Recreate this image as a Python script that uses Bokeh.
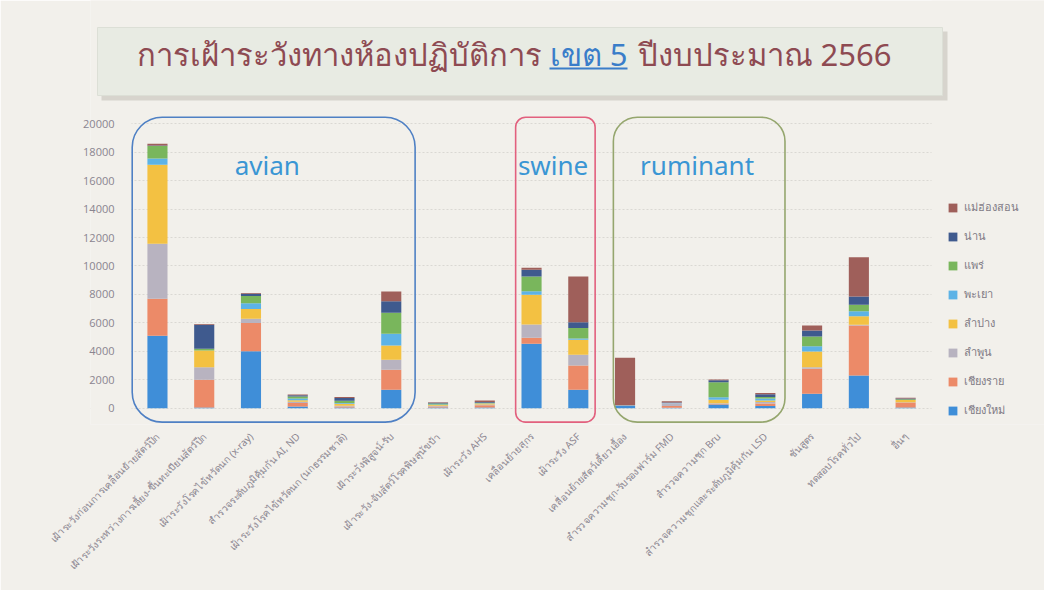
import math
from bokeh.plotting import figure
from bokeh.models import (Range1d, FixedTicker, BoxAnnotation, Label, Legend,
                          LegendItem, ColumnDataSource, BasicTickFormatter)
from bokeh.embed import file_html
from bokeh.resources import INLINE

# ---------------- data ----------------
categories = [
    "เฝ้าระวังก่อนการเคลื่อนย้ายสัตว์ปีก",
    "เฝ้าระวังระหว่างการเลี้ยง-ขึ้นทะเบียนสัตว์ปีก",
    "เฝ้าระวังโรคไข้หวัดนก (x-ray)",
    "สำรวจระดับภูมิคุ้มกัน AI, ND",
    "เฝ้าระวังโรคไข้หวัดนก (นกธรรมชาติ)",
    "เฝ้าระวังพิสูจน์-รับ",
    "เฝ้าระวัง-จับสัตว์โรคพิษสุนัขบ้า",
    "เฝ้าระวัง AHS",
    "เคลื่อนย้ายสุกร",
    "เฝ้าระวัง ASF",
    "เคลื่อนย้ายสัตว์เคี้ยวเอื้อง",
    "สำรวจความชุก-รับรองฟาร์ม FMD",
    "สำรวจความชุก Bru",
    "สำรวจความชุกและระดับภูมิคุ้มกัน LSD",
    "ชันสูตร",
    "ทดสอบโรคทั่วไป",
    "อื่นๆ",
]
provinces = ["เชียงใหม่", "เชียงราย", "ลำพูน", "ลำปาง", "พะเยา", "แพร่", "น่าน", "แม่ฮ่องสอน"]
chiang_mai   = [5100,   50, 4000, 120,  40, 1300, 40,  40, 4530, 1290,  150,  30,  260, 150, 1010, 2300,  40]
chiang_rai   = [2600, 1950, 1980, 250,  80, 1400, 80, 160,  420, 1710,   20, 120,   50, 180, 1760, 3520, 350]
lamphun      = [3870,  880,  300,  80,  40,  700, 40,  60,  940,  750,    0, 200,   30, 100,  100,   50,  30]
lampang      = [5550, 1180,  700, 100, 150, 1010, 60,  60, 2080, 1060,    0,   0,  250, 100, 1120,  600, 150]
phayao       = [ 430,    0,  390, 120,  60,  820, 30,  20,  260,   90,   30,  20,  180, 150,  370,  350,   0]
phrae        = [ 880,  120,  520, 150, 150, 1480, 80,  40, 1030,  730,    0,   0, 1060, 100,  680,  450,  50]
nan          = [  50, 1680,  150,  80, 200,  810, 50,  60,  470,  420,    0,  20,  140, 200,  420,  590,  50]
mae_hong_son = [ 120,   50,   60,  60,  60,  680, 40, 100,  140, 3210, 3350, 100,   50,  80,  360, 2760,  60]
y_ticks = [0, 2000, 4000, 6000, 8000, 10000, 12000, 14000, 16000, 18000, 20000]
groups = ["avian", "swine", "ruminant"]
title_parts = ["การเฝ้าระวังทางห้องปฏิบัติการ", "เขต 5", "ปีงบประมาณ 2566"]

series = [chiang_mai, chiang_rai, lamphun, lampang, phayao, phrae, nan, mae_hong_son]
colors = ["#3f8ed8", "#ec8a68", "#b8b3c0", "#f3c142", "#5db3e6", "#79b65c", "#3f5a8e", "#9f5f5a"]

BG = "#f2f0eb"
FONT = "Noto Sans"

xs = list(range(len(categories)))
data = {"x": xs}
for name, vals in zip(provinces, series):
    data[name] = vals
source = ColumnDataSource(data)

# frame covers canvas x 90..1044, y 0..424 ; bars region x 131..931
p = figure(width=1044, height=590, x_range=Range1d(-1.432, 18.97), y_range=Range1d(-1150, 28670),
           output_backend="svg", toolbar_location=None,
           min_border_left=90, min_border_right=0, min_border_top=0, min_border_bottom=166)
p.background_fill_color = BG
p.border_fill_color = BG
p.outline_line_color = None
# pixel-like overlay ranges for decoration
p.extra_x_ranges = {"px": Range1d(90, 1044)}
p.extra_y_ranges = {"px": Range1d(424, 0)}

def pxbox(l, r, t, b, **kw):
    return BoxAnnotation(left=l, right=r, top=t, bottom=b, x_range_name="px", y_range_name="px", **kw)

# hide grid outside the bar area
p.add_layout(pxbox(90, 131, 0, 424, fill_color=BG, fill_alpha=1, line_alpha=0, level="underlay"))
p.add_layout(pxbox(931, 1044, 0, 424, fill_color=BG, fill_alpha=1, line_alpha=0, level="underlay"))

# ---------------- title ----------------
p.add_layout(pxbox(101, 947, 31, 100, fill_color="#cfcdc6", fill_alpha=0.8, line_alpha=0))
p.add_layout(pxbox(97, 942, 27, 95, fill_color="#e8ebe3", fill_alpha=1, line_color="#dcdfd6", line_alpha=1))
title_x = [541, 588, 637]
title_align = ["right", "center", "left"]
title_colors = ["#8e4a52", "#3a7dc9", "#8e4a52"]
for tx, ta, tc, tt in zip(title_x, title_align, title_colors, title_parts):
    p.add_layout(Label(x=tx, y=53, x_range_name="px", y_range_name="px", text=tt,
                       text_align=ta, text_baseline="middle", text_font=FONT,
                       text_font_size="31px", text_color=tc))
p.add_layout(pxbox(549, 627, 67, 69, fill_color="#3a7dc9", fill_alpha=1, line_alpha=0))

# ---------------- bars ----------------
renderers = p.vbar_stack(provinces, x="x", width=0.43, color=colors, source=source, line_color=None)

p.xaxis.ticker = FixedTicker(ticks=xs)
p.xaxis.major_label_overrides = {i: c for i, c in enumerate(categories)}
p.xaxis.major_label_orientation = math.pi / 4
p.xaxis.axis_line_color = None
p.xaxis.major_tick_line_color = None
p.xaxis.minor_tick_line_color = None
p.xaxis.major_label_text_font = FONT
p.xaxis.major_label_text_font_size = "10px"
p.xaxis.major_label_text_color = "#8a8590"
p.xaxis.major_label_standoff = 4

p.yaxis.ticker = FixedTicker(ticks=y_ticks)
p.yaxis.formatter = BasicTickFormatter(use_scientific=False)
p.yaxis.axis_line_color = None
p.yaxis.major_tick_line_color = None
p.yaxis.minor_tick_line_color = None
p.yaxis.major_label_text_font = "Open Sans"
p.yaxis.major_label_text_font_size = "11px"
p.yaxis.major_label_text_color = "#8a8590"
p.yaxis.major_label_standoff = -30

p.xgrid.visible = False
p.ygrid.grid_line_color = "#dad8d3"
p.ygrid.grid_line_dash = "2 2"

# group boxes
p.add_layout(BoxAnnotation(left=-0.54, right=5.51, bottom=-985, top=20464, fill_alpha=0,
                           line_color="#4f80c4", line_alpha=1, line_width=1.6, border_radius=30))
p.add_layout(BoxAnnotation(left=7.66, right=9.36, bottom=-985, top=20464, fill_alpha=0,
                           line_color="#e2607e", line_alpha=1, line_width=1.6, border_radius=10))
p.add_layout(BoxAnnotation(left=9.75, right=13.42, bottom=-985, top=20464, fill_alpha=0,
                           line_color="#95a66e", line_alpha=1, line_width=1.6, border_radius=24))
for gx, gname in zip([2.35, 8.46, 11.54], groups):
    p.add_layout(Label(x=gx, y=17070, text=gname, text_align="center", text_baseline="middle",
                       text_font=FONT, text_font_size="26px", text_color="#3a96d4"))

items = [LegendItem(label=provinces[i], renderers=[renderers[i]]) for i in reversed(range(len(provinces)))]
legend = Legend(items=items, location=(857, 4), glyph_width=11, glyph_height=11, label_height=20,
                spacing=9, label_standoff=6, label_text_font=FONT, label_text_font_size="11px",
                label_text_color="#7f7a85", background_fill_alpha=0, border_line_alpha=0,
                margin=0, padding=0)
p.add_layout(legend, "center")

open("out.html", "w").write(file_html(p, INLINE))
